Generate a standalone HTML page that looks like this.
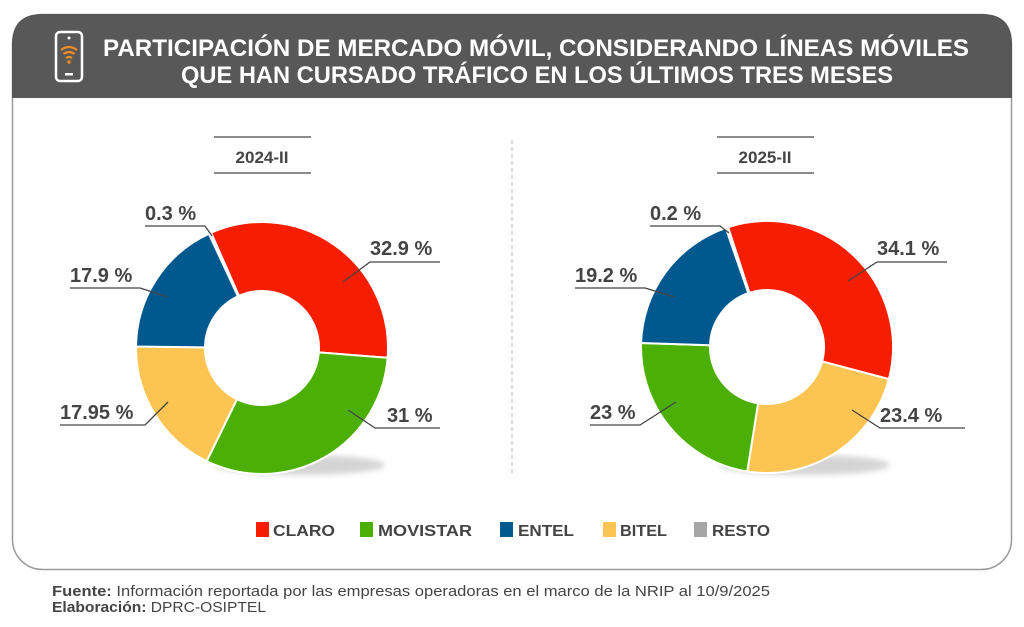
<!DOCTYPE html>
<html><head><meta charset="utf-8"><style>
html,body{margin:0;padding:0;background:#fff;}
svg{display:block;font-family:"Liberation Sans",sans-serif;}
</style></head><body>
<svg width="1024" height="627" viewBox="0 0 1024 627" xmlns="http://www.w3.org/2000/svg">
<defs>
<filter id="sh" x="-10%" y="-10%" width="120%" height="130%"><feGaussianBlur stdDeviation="3"/></filter>
</defs>
<rect x="12.5" y="14.5" width="999" height="555" rx="30" fill="#fff" stroke="#9a9a9a" stroke-width="1.5"/>
<path d="M12 98 V44 Q12 14 42 14 H982 Q1012 14 1012 44 V98 Z" fill="#585858"/>
<rect x="56" y="32" width="26" height="49" rx="4" fill="none" stroke="#fff" stroke-width="2.5"/>
<circle cx="69" cy="38" r="1.5" fill="#fff"/>
<rect x="65" y="73" width="8" height="2.5" fill="#fff"/>
<g fill="none" stroke="#f08a24" stroke-width="2.2">
<path d="M61 50 Q69 44 77 50"/><path d="M63.5 54 Q69 50 74.5 54"/><path d="M66 58 Q69 56 72 58"/>
</g>
<circle cx="69" cy="62" r="1.8" fill="#f08a24"/>
<text x="536" y="56" fill="#fff" font-size="24" font-weight="bold" text-anchor="middle" textLength="866" lengthAdjust="spacingAndGlyphs">PARTICIPACIÓN DE MERCADO MÓVIL, CONSIDERANDO LÍNEAS MÓVILES</text>
<text x="537" y="83" fill="#fff" font-size="24" font-weight="bold" text-anchor="middle" textLength="712" lengthAdjust="spacingAndGlyphs">QUE HAN CURSADO TRÁFICO EN LOS ÚLTIMOS TRES MESES</text>
<g stroke="#666" stroke-width="1.5">
<line x1="214" y1="137" x2="311" y2="137"/><line x1="214" y1="173" x2="311" y2="173"/>
<line x1="717" y1="137" x2="814" y2="137"/><line x1="717" y1="173" x2="814" y2="173"/>
</g>
<text x="262" y="163" font-size="17" font-weight="bold" fill="#444" text-anchor="middle">2024-II</text>
<text x="765" y="163" font-size="17" font-weight="bold" fill="#444" text-anchor="middle">2025-II</text>
<line x1="512" y1="140" x2="512" y2="476" stroke="#bbb" stroke-width="1" stroke-dasharray="4,3"/>
<ellipse cx="300" cy="465" rx="85" ry="10" fill="#aaa" opacity="0.5" filter="url(#sh)"/>
<ellipse cx="805" cy="465" rx="85" ry="10" fill="#aaa" opacity="0.5" filter="url(#sh)"/>
<g id="donuts"></g>
<g font-size="20" font-weight="bold" fill="#444">
<text x="145" y="220">0.3 %</text>
<text x="370" y="255">32.9 %</text>
<text x="70" y="282">17.9 %</text>
<text x="60" y="419">17.95 %</text>
<text x="387" y="422">31 %</text>
<text x="650" y="220">0.2 %</text>
<text x="877" y="255">34.1 %</text>
<text x="575" y="282">19.2 %</text>
<text x="590" y="419">23 %</text>
<text x="880" y="422">23.4 %</text>
</g>
<g fill="none" stroke="#444" stroke-width="1.3">
<polyline points="145,226 205,226 212,236"/>
<polyline points="440,262 370,262 343,282"/>
<polyline points="70,288 140,288 168,297"/>
<polyline points="60,425 145,425 168,402"/>
<polyline points="440,428 375,428 348,410"/>
<polyline points="650,226 720,226 729,233"/>
<polyline points="947,262 877,262 848,281"/>
<polyline points="575,288 645,288 675,297"/>
<polyline points="590,425 640,425 676,402"/>
<polyline points="965,428 880,428 852,410"/>
</g>
<g font-size="16" font-weight="bold" fill="#444">
<rect x="256" y="522" width="13" height="15" fill="#f61d00"/><text x="273" y="536" textLength="62" lengthAdjust="spacingAndGlyphs">CLARO</text>
<rect x="360" y="522" width="13" height="15" fill="#4caf06"/><text x="378" y="536" textLength="94" lengthAdjust="spacingAndGlyphs">MOVISTAR</text>
<rect x="500" y="522" width="13" height="15" fill="#00598e"/><text x="518" y="536" textLength="56" lengthAdjust="spacingAndGlyphs">ENTEL</text>
<rect x="603" y="522" width="13" height="15" fill="#fcc452"/><text x="620" y="536" textLength="47" lengthAdjust="spacingAndGlyphs">BITEL</text>
<rect x="694" y="522" width="13" height="15" fill="#a6a6a6"/><text x="712" y="536" textLength="58" lengthAdjust="spacingAndGlyphs">RESTO</text>
</g>
<text x="52" y="596" font-size="15" fill="#444" textLength="718" lengthAdjust="spacingAndGlyphs"><tspan font-weight="bold">Fuente:</tspan> Información reportada por las empresas operadoras en el marco de la NRIP al 10/9/2025</text>
<text x="52" y="612" font-size="15" fill="#444" textLength="214" lengthAdjust="spacingAndGlyphs"><tspan font-weight="bold">Elaboración:</tspan> DPRC-OSIPTEL</text>
<script>
(function(){
var ns="http://www.w3.org/2000/svg",g=document.getElementById("donuts");
function donut(cx,cy,R,r,start,data){
 var a=start;
 data.forEach(function(d){
  var sw=d[0]*3.6,a0=a*Math.PI/180,a1=(a+sw)*Math.PI/180;
  function p(rad,ang){return [cx+rad*Math.sin(ang),cy-rad*Math.cos(ang)];}
  var p0=p(R,a0),p1=p(R,a1),p2=p(r,a1),p3=p(r,a0),l=sw>180?1:0;
  var path=document.createElementNS(ns,"path");
  path.setAttribute("d","M"+p0+" A"+R+","+R+" 0 "+l+" 1 "+p1+" L"+p2+" A"+r+","+r+" 0 "+l+" 0 "+p3+"Z");
  path.setAttribute("fill",d[1]);path.setAttribute("stroke","#fff");path.setAttribute("stroke-width","2");
  g.appendChild(path);a+=sw;
 });
}
donut(262,348,126,57,-24,[[32.9,"#f61d00"],[31,"#4caf06"],[17.95,"#fcc452"],[17.9,"#00598e"],[0.3,"#a6a6a6"]]);
donut(767,347,126,57,-18,[[34.1,"#f61d00"],[23.4,"#fcc452"],[23,"#4caf06"],[19.2,"#00598e"],[0.3,"#a6a6a6"]]);
})();
</script>
</svg>
</body></html>
